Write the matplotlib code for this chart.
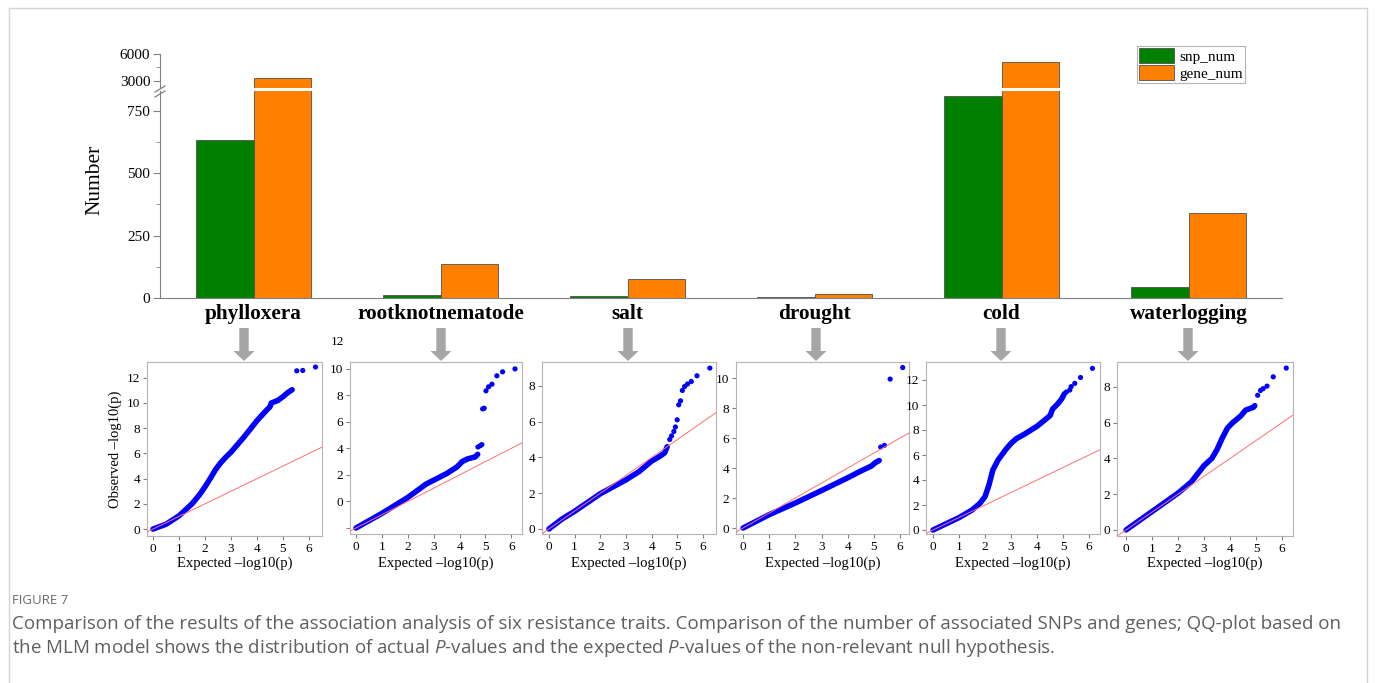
import matplotlib
matplotlib.use('Agg')
import matplotlib.pyplot as plt
from matplotlib.patches import Polygon, Rectangle, Patch
from matplotlib.lines import Line2D
import matplotlib.transforms as mtransforms
import numpy as np

# ---------------- data ----------------
traits = ['phylloxera', 'rootknotnematode', 'salt', 'drought', 'cold', 'waterlogging']
snp_num = [632, 12, 8, 3, 809, 44]
gene_num = [3340, 136, 76, 16, 5070, 340]

lower_ticks = [0, 250, 500, 750]
upper_ticks = [3000, 6000]

# QQ plots: dense part (read along the band) and isolated points
phyl_x = [0, 0.5, 1, 1.5, 1.8, 2, 2.2, 2.4, 2.6, 2.8, 3, 3.5, 4, 4.4, 4.5, 4.55, 4.8, 5, 5.2, 5.35]
phyl_y = [0, 0.38, 1.05, 2.0, 2.75, 3.35, 4.0, 4.7, 5.25, 5.7, 6.1, 7.3, 8.6, 9.5, 9.7, 10.0, 10.2, 10.5, 10.85, 11.05]
phyl_ox = [5.53, 5.76, 6.25]
phyl_oy = [12.55, 12.58, 12.85]

root_x = [0, 1, 2, 2.7, 3, 3.5, 3.9, 4.1, 4.3, 4.6, 4.7]
root_y = [0, 1.1, 2.3, 3.3, 3.6, 4.1, 4.6, 5.0, 5.2, 5.35, 5.55]
root_ox = [4.71, 4.8, 4.86, 4.89, 4.95, 5.02, 5.12, 5.25, 5.44, 5.66, 6.14]
root_oy = [6.1, 6.2, 6.28, 8.97, 9.02, 10.33, 10.63, 10.83, 11.46, 11.76, 11.98]

salt_x = [0, 0.5, 1, 2, 3, 3.5, 4, 4.3, 4.5, 4.6]
salt_y = [0, 0.55, 0.99, 1.97, 2.75, 3.2, 3.8, 4.05, 4.25, 4.6]
salt_ox = [4.7, 4.77, 4.86, 4.92, 4.99, 5.05, 5.12, 5.19, 5.28, 5.39, 5.54, 5.76, 6.26]
salt_oy = [5.0, 5.2, 5.45, 5.7, 6.1, 6.94, 7.16, 7.74, 7.96, 8.1, 8.24, 8.56, 8.99]

drou_x = [0, 1, 2, 3, 4, 4.5, 4.9, 5.05, 5.2]
drou_y = [0, 0.89, 1.67, 2.5, 3.35, 3.8, 4.13, 4.35, 4.5]
drou_ox = [5.26, 5.4, 5.62, 6.1]
drou_oy = [5.4, 5.51, 9.93, 10.7]

cold_x = [0, 1, 1.5, 1.8, 2.0, 2.15, 2.3, 2.5, 2.8, 3.0, 3.2, 3.5, 4.0, 4.5, 4.6, 4.8, 4.95, 5.05]
cold_y = [0, 0.99, 1.6, 2.13, 2.67, 3.6, 4.8, 5.6, 6.45, 6.93, 7.3, 7.65, 8.3, 9.15, 9.68, 10.1, 10.5, 10.9]
cold_ox = [5.13, 5.26, 5.31, 5.45, 5.67, 6.13]
cold_oy = [11.04, 11.2, 11.47, 11.73, 12.2, 12.93]

watr_x = [0, 1, 2, 2.5, 3, 3.3, 3.5, 3.7, 3.9, 4.1, 4.4, 4.6, 4.9, 4.95]
watr_y = [0, 1.03, 2.06, 2.67, 3.6, 4.0, 4.5, 5.14, 5.7, 6.0, 6.36, 6.7, 6.86, 6.95]
watr_ox = [5.06, 5.17, 5.27, 5.42, 5.66, 6.16]
watr_oy = [7.53, 7.8, 7.9, 8.04, 8.56, 9.05]

caption_head = 'FIGURE 7'
caption_1 = ('Comparison of the results of the association analysis of six resistance traits. '
             'Comparison of the number of associated SNPs and genes; QQ-plot based on')
caption_2 = ('the MLM model shows the distribution of actual $P$-values and the expected '
             '$P$-values of the non-relevant null hypothesis.')

# ---------------- style ----------------
W, H = 1375, 683
SERIF = 'Liberation Serif'
plt.rcParams['font.family'] = SERIF
plt.rcParams['mathtext.fontset'] = 'custom'
plt.rcParams['mathtext.rm'] = 'Open Sans'
plt.rcParams['mathtext.it'] = 'Open Sans:italic'

GREEN = '#008000'
ORANGE = '#FF8000'
AXC = '#808080'

fig = plt.figure(figsize=(W / 100, H / 100), dpi=100)


def ax_px(left, top, right, bottom):
    return fig.add_axes([left / W, 1 - bottom / H, (right - left) / W, (bottom - top) / H])


# outer frame
fig.patches.append(Rectangle((9 / W, -0.02), (1367 - 9) / W, 1.02 - 8 / H,
                             transform=fig.transFigure, fill=False,
                             edgecolor='#d4d4d4', lw=1.0))

# ---------------- bar chart (broken axis) ----------------
lo = ax_px(160, 91, 1282, 298)
hi = ax_px(160, 54, 1282, 88)
xpos = np.arange(len(traits))
bw = 0.305
for ax in (lo, hi):
    ax.bar(xpos - bw / 2, snp_num, bw, color=GREEN, edgecolor='#505050', lw=0.6, label='snp_num')
    ax.bar(xpos + bw / 2, gene_num, bw, color=ORANGE, edgecolor='#505050', lw=0.6, label='gene_num')
    ax.set_xlim(-0.5, 5.5)
    ax.set_facecolor('none')
    for s in ('top', 'right'):
        ax.spines[s].set_visible(False)
    ax.spines['left'].set_color(AXC)
    ax.spines['bottom'].set_color(AXC)
    ax.tick_params(axis='y', which='major', direction='out', length=5, color=AXC,
                   labelsize=11, pad=2)
    ax.tick_params(axis='y', which='minor', direction='out', length=3, color=AXC)

lo.set_ylim(0, 828)
lo.set_yticks(lower_ticks)
lo.set_yticks([125, 375, 625], minor=True)
lo.set_xticks(xpos)
lo.set_xticklabels(traits, fontsize=15.3, fontweight='bold')
lo.tick_params(axis='x', length=0, pad=4)

hi.set_ylim(2180, 6000)
hi.set_yticks(upper_ticks)
hi.set_yticks([4500], minor=True)
hi.spines['bottom'].set_visible(False)
hi.set_xticks([])

fig.text(95 / W, 1 - 180 / H, 'Number', rotation=90, fontsize=15.4,
         ha='center', va='center')

# break marks
for dy in (0, 5):
    fig.add_artist(Line2D([155 / W, 165 / W], [1 - (92 + dy) / H, 1 - (86 + dy) / H],
                          color=AXC, lw=0.9))
    
# legend
handles = [Patch(facecolor=GREEN, edgecolor='#505050', lw=0.6, label='snp_num'),
           Patch(facecolor=ORANGE, edgecolor='#505050', lw=0.6, label='gene_num')]
leg = fig.legend(handles=handles, loc='upper left', bbox_to_anchor=(1137 / W, 1 - 46 / H),
                 prop={'family': SERIF, 'size': 11}, frameon=True, fancybox=False,
                 edgecolor='#a0a0a0', borderpad=0.15, labelspacing=0.08,
                 handlelength=2.3, handleheight=1.1, handletextpad=0.3, borderaxespad=0)
leg.get_frame().set_linewidth(0.8)

# arrows
arrow_x = [244, 441, 628, 816, 1001, 1188]
for ax_c in arrow_x:
    pts = [(ax_c - 4.7, 328), (ax_c + 4.7, 328), (ax_c + 4.7, 351), (ax_c + 10.5, 351),
           (ax_c, 361), (ax_c - 10.5, 351), (ax_c - 4.7, 351)]
    fig.patches.append(Polygon([(px / W, 1 - py / H) for px, py in pts], closed=True,
                               transform=fig.transFigure, facecolor='#a6a6a6',
                               edgecolor='none'))

# ---------------- QQ plots ----------------
qq = [
    (phyl_x, phyl_y, phyl_ox, phyl_oy, (147, 362, 322, 536), (-0.23, 6.5), (-0.55, 13.25), [0, 2, 4, 6, 8, 10, 12], None),
    (root_x, root_y, root_ox, root_oy, (350, 362, 522, 534), (-0.23, 6.41), (-0.45, 12.5), [0, 2, 4, 6, 8, 10, 12],
     ['', '0', '2', '4', '6', '8', '10']),
    (salt_x, salt_y, salt_ox, salt_oy, (542, 362, 716, 534), (-0.27, 6.5), (-0.28, 9.33), [0, 2, 4, 6, 8], None),
    (drou_x, drou_y, drou_ox, drou_oy, (736, 362, 909, 534), (-0.27, 6.34), (-0.4, 11.07), [0, 2, 4, 6, 8, 10], None),
    (cold_x, cold_y, cold_ox, cold_oy, (926, 362, 1100, 534), (-0.27, 6.42), (-0.32, 13.44), [0, 2, 4, 6, 8, 10, 12], None),
    (watr_x, watr_y, watr_ox, watr_oy, (1117, 362, 1293, 536), (-0.35, 6.42), (-0.34, 9.39), [0, 2, 4, 6, 8], None),
]

QQC = '#b4b4b4'
for i, (dx, dy, ox, oy, box, xl, yl, yt, ylab) in enumerate(qq):
    ax = ax_px(*box)
    ax.plot(dx, dy, color='#0000ff', lw=4.0, solid_capstyle='round', solid_joinstyle='round', zorder=2)
    ax.scatter(ox, oy, s=14, color='#0000ff', edgecolors='none', zorder=2)
    ax.axline((0, 0), slope=1, color='#ff7070', lw=0.7, zorder=3)
    ax.set_xlim(*xl)
    ax.set_ylim(*yl)
    ax.set_xticks(range(7))
    ax.set_yticks(yt)
    if ylab is not None:
        ax.set_yticklabels(ylab)
        ax.text(-0.035, 14, '12', transform=mtransforms.blended_transform_factory(ax.transAxes, ax.transData),
                ha='right', va='center', fontsize=9.5, clip_on=False)
    for s in ax.spines.values():
        s.set_color(QQC)
        s.set_linewidth(0.8)
    ax.tick_params(direction='out', length=3, color='#808080', labelsize=9.5, pad=2)
    ax.set_xlabel('Expected \u2013log10(p)', fontsize=10.5)
    ax.xaxis.set_label_coords(0.5, -(563 - box[3]) / (box[3] - box[1]))
    ax.xaxis.label.set_verticalalignment('center')
    if i == 0:
        ax.set_ylabel('Observed \u2013log10(p)', fontsize=10.5)
        ax.yaxis.set_label_coords(-(box[0] - 115) / (box[2] - box[0]), 0.5)
        ax.yaxis.label.set_verticalalignment('center')

# ---------------- caption ----------------
CAPC = '#5f5f5f'
fig.text(12 / W, 1 - 600 / H, caption_head, fontsize=9.5, color='#6a6a6a',
         family='Open Sans', va='center', ha='left')
t1 = fig.text(12 / W, 1 - 624 / H, caption_1, fontsize=12, color=CAPC,
              family='Open Sans', va='center', ha='left')
t2 = fig.text(12 / W, 1 - 648 / H, caption_2, fontsize=12, color=CAPC,
              family='Open Sans', va='center', ha='left')
r = fig.canvas.get_renderer()
wpx = t1.get_window_extent(r).width
fs = 12 * (1325 / wpx)
t1.set_fontsize(fs)
t2.set_fontsize(fs)

fig.savefig('out.png', dpi=100)
